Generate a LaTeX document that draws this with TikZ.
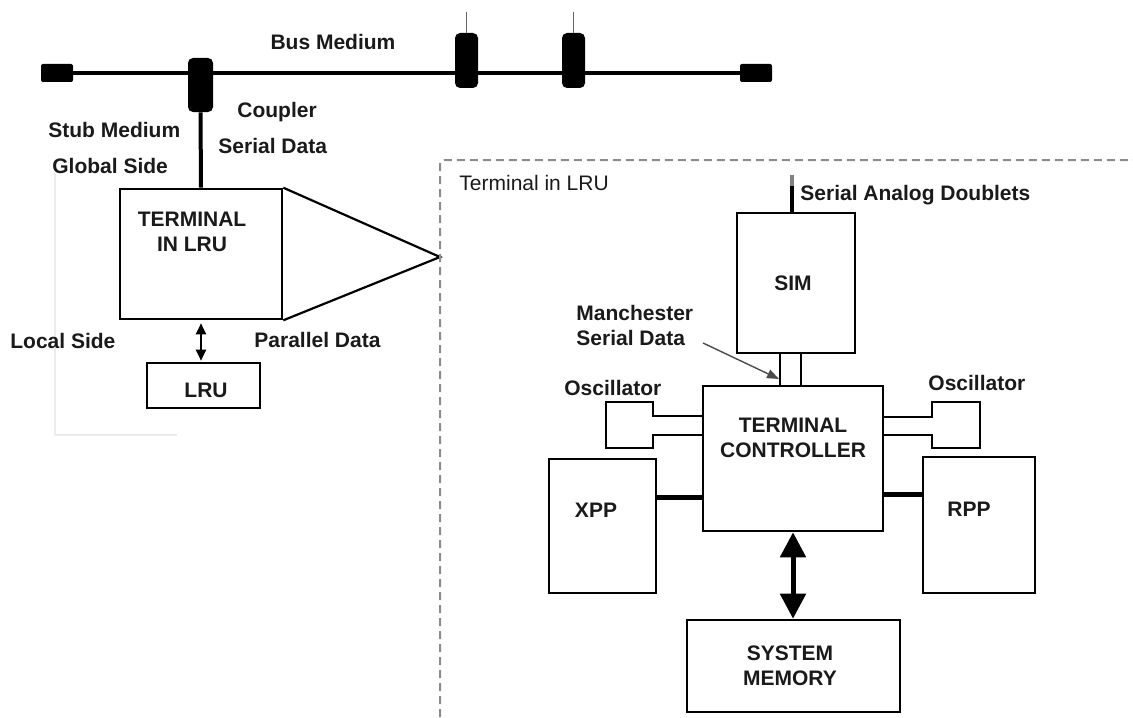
\documentclass[tikz,border=0pt]{standalone}
\usepackage{fontspec}
\setmainfont{Liberation Sans}
\usetikzlibrary{arrows.meta}
\definecolor{color_lru_frame}{HTML}{8c8c8c}
\definecolor{color_lru_faint}{HTML}{ececec}
\definecolor{color_lru_text}{HTML}{1a1a1a}
\def\lrulinewidth{1.3pt}
\def\lrubuswidth{2pt}

\begin{document}
\begin{tikzpicture}[x=0.5pt, y=-0.5pt,
    box/.style={draw, line width=\lrulinewidth, inner sep=0pt},
    txt/.style={font=\fontsize{10.5}{12.25}\selectfont\bfseries, inner sep=0pt, text=color_lru_text},
    cpl/.style={fill=black, inner sep=0pt, rounded corners=2.5pt}]
        \useasboundingbox (0,0) rectangle (1133,717);
        % faint leftover frame
        \draw[color_lru_faint, line width=0.6pt] (55,173) -- (55,435) -- (177,435);

        % bus medium, terminators and couplers
        \node[cpl, minimum width=16pt, minimum height=9pt, rounded corners=1pt] (endl) at (57,73) {};
        \node[cpl, minimum width=16pt, minimum height=9pt, rounded corners=1pt] (endr) at (756,73) {};
        \draw[line width=\lrubuswidth] (endl) -- (endr);
        \node[cpl, minimum width=12.5pt, minimum height=27pt] (cpla) at (200.5,85) {};
        \node[cpl, minimum width=11.5pt, minimum height=27.5pt] (cplb) at (466.5,60.5) {};
        \node[cpl, minimum width=11.5pt, minimum height=27.5pt] (cplc) at (573.5,60.5) {};
        \coordinate (topb) at (466.5,12);
        \coordinate (topc) at (573.5,12);
        \draw[black!60, line width=0.8pt] (cplb.north) -- (topb);
        \draw[black!60, line width=0.8pt] (cplc.north) -- (topc);

        % labels on the global side
        \node[txt, anchor=base] (busl) at (333,50) {Bus Medium};
        \node[txt, anchor=base west] (cpll) at (237,118) {Coupler};
        \node[txt, anchor=base west] (stubl) at (48,137) {Stub Medium};
        \node[txt, anchor=base west] (serl) at (218,153) {Serial Data};
        \node[txt, anchor=base west] (globl) at (52,173) {Global Side};

        % terminal and lru
        \node[box, minimum width=81pt, minimum height=65pt] (term) at (201,254) {};
        \node[txt, align=center, anchor=base] (termtxt) at (192,251) {TERMINAL\\IN LRU};
        \node[box, minimum width=56.5pt, minimum height=22.5pt] (lru) at (203.5,385.5) {};
        \node[txt, anchor=base] (lrutxt) at (206,397) {LRU};
        \draw[line width=\lrubuswidth] (cpla.south) -- (term.north);
        \draw[{Triangle[width=5pt,length=5.5pt]}-{Triangle[width=5pt,length=5.5pt]}, line width=1pt]
            ([yshift=-1.5pt]term.south) -- ([yshift=0.5pt]term.south |- lru.north);
        \node[txt, anchor=base west] (locl) at (10,348) {Local Side};
        \node[txt, anchor=base west] (parl) at (254,347) {Parallel Data};

        % zoom lines and dashed frame
        \coordinate (apex) at (440,257);
        \draw[line width=1.1pt] (term.north east) -- (apex) -- (term.south east);
        \draw[color_lru_frame, line width=1pt, dash pattern=on 4pt off 2.5pt, rounded corners=2pt]
            (440,717) -- (440,160) -- (1133,160);
        \node[txt, font=\fontsize{10.5}{12.25}\selectfont, anchor=base west] (framel) at (459,190) {Terminal in LRU};

        % sim
        \node[box, minimum width=59pt, minimum height=70pt] (sim) at (796,283) {};
        \node[txt, anchor=base] (simtxt) at (793,290) {SIM};
        \coordinate (simfeed) at (792,186);
        \coordinate (simtop) at (792,175);
        \draw[line width=2pt] (sim.north -| simfeed) -- (simfeed);
        \draw[black!50, line width=2pt] (simfeed) -- (simtop);
        \node[txt, anchor=base west] (sadl) at (800,200) {Serial Analog Doublets};

        % terminal controller
        \node[box, minimum width=10.5pt, minimum height=16.5pt] (conn) at (790.5,369.5) {};
        \node[box, minimum width=90pt, minimum height=72.5pt] (tc) at (793,458.5) {};
        \node[txt, align=center, anchor=base] (tctxt) at (793,457) {TERMINAL\\CONTROLLER};
        \node[txt, align=left, anchor=base west] (manl) at (576,345) {Manchester\\Serial Data};
        \coordinate (mtail) at (703,343);
        \coordinate (mhead) at (779,379);
        \draw[-{Triangle[width=4.5pt,length=6pt]}, black!70, line width=0.7pt] (mtail) -- (mhead);

        % oscillators
        \draw[line width=\lrulinewidth] (tc.west |- 0,416) -- (653,416) -- (653,402) -- (606,402)
            -- (606,448) -- (653,448) -- (653,435) -- (tc.west |- 0,435);
        \draw[line width=\lrulinewidth] (tc.east |- 0,417) -- (932,417) -- (932,402) -- (980,402)
            -- (980,448) -- (932,448) -- (932,435) -- (tc.east |- 0,435);
        \node[txt, anchor=base west] (oscl) at (564,395) {Oscillator};
        \node[txt, anchor=base west] (oscr) at (928,390) {Oscillator};

        % xpp, rpp
        \node[box, minimum width=53.5pt, minimum height=67pt] (xpp) at (602.5,526) {};
        \node[txt, anchor=base] (xpptxt) at (596,517) {XPP};
        \node[box, minimum width=56pt, minimum height=68pt] (rpp) at (979,525) {};
        \node[txt, anchor=base] (rpptxt) at (969,516) {RPP};
        \draw[line width=2.5pt] (xpp.east |- 0,497) -- (tc.west |- 0,497);
        \draw[line width=2.5pt] (tc.east |- 0,494) -- (rpp.west |- 0,494);

        % system memory
        \node[box, minimum width=106.5pt, minimum height=46pt] (sm) at (793.5,666) {};
        \node[txt, align=center, anchor=base] (smtxt) at (790,685) {SYSTEM\\MEMORY};
        \draw[{Triangle[width=12.5pt,length=12.5pt]}-{Triangle[width=12.5pt,length=12.5pt]}, line width=2.5pt]
            (tc.south) -- (tc.south |- sm.north);
\end{tikzpicture}
\end{document}
